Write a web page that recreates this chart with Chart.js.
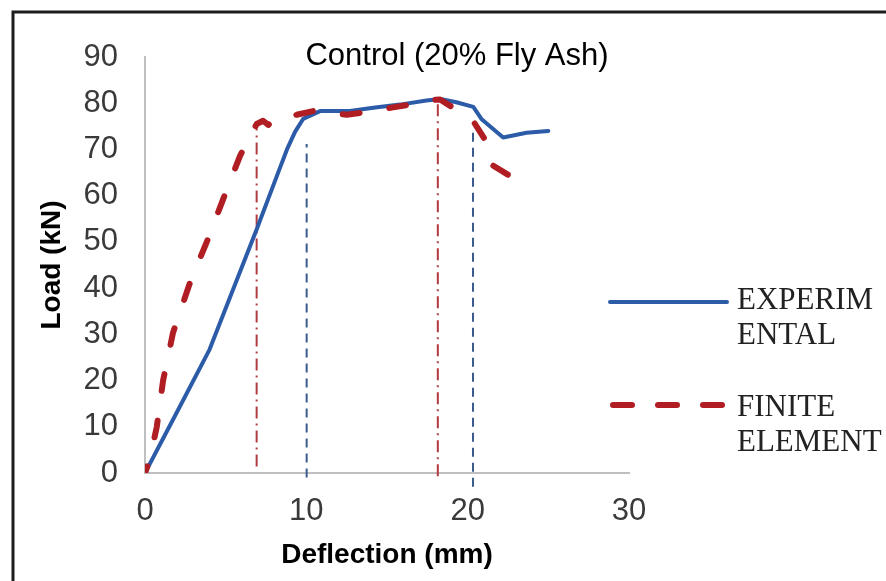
<!DOCTYPE html>
<html>
<head>
<meta charset="utf-8">
<script src="https://cdn.jsdelivr.net/npm/chart.js@4/dist/chart.umd.min.js"></script>
<style>
  html, body { margin: 0; padding: 0; background: #ffffff; }
  #wrap { width: 886px; height: 581px; position: relative; }
  canvas { display: block; }
</style>
</head>
<body>
<div id="wrap"><canvas id="c" width="886" height="581"></canvas></div>
<script>
// ---- Data ----
const chartTitle = "Control (20% Fly Ash)";
const xAxisTitle = "Deflection (mm)";
const yAxisTitle = "Load (kN)";
const xTicks = [0, 10, 20, 30];
const yTicks = [0, 10, 20, 30, 40, 50, 60, 70, 80, 90];

const expLabel = ["EXPERIM", "ENTAL"];
const expX = [0, 2.0, 4.0, 6.9, 8.2, 8.8, 9.3, 9.8, 10.85, 12.7, 14.15, 15.8, 17.45, 18.3, 19.3, 20.35, 20.85, 22.2, 23.65, 25.0];
const expY = [0, 13.3, 26.7, 52.5, 64.5, 70.0, 73.8, 76.6, 78.3, 78.3, 79.0, 79.7, 80.6, 80.9, 80.2, 79.2, 76.6, 72.6, 73.6, 74.0];

const feLabel = ["FINITE", "ELEMENT"];
const feX = [0, 0.3, 0.73, 1.12, 1.74, 2.79, 3.83, 4.84, 5.89, 6.92, 7.32, 7.64, 8.06, 9.4, 10.43, 12.5, 13.74, 15.19, 16.43, 17.87, 18.29, 19.11, 20.35, 21.08, 21.49, 22.52];
const feY = [0, 3.0, 10.0, 20.0, 30.4, 41.2, 50.0, 59.2, 68.6, 75.5, 76.2, 75.3, 76.6, 77.5, 78.3, 77.5, 78.1, 79.0, 79.7, 80.7, 80.8, 79.0, 76.1, 72.1, 66.7, 64.5];

// vertical marker lines: x, bottom y, top y
const feMarkX = [6.92, 18.15];
const feMarkY0 = [1.4, -0.7];
const feMarkY1 = [75.2, 80.0];
const expMarkX = [10.02, 20.33];
const expMarkY0 = [-1.0, -3.0];
const expMarkY1 = [71.2, 74.8];

// ---- Styles ----
const BLUE = "#2c5ba8";
const RED = "#b01e24";
const BLUE_MARK = "#3b5b8c";
const RED_MARK = "#b33a40";

function pts(xs, ys) { return xs.map((x, i) => ({ x: x, y: ys[i] })); }

const datasets = [
  { label: feLabel.join(""), data: pts(feX, feY), borderColor: RED, borderWidth: 6,
    borderDash: [17, 30], borderDashOffset: 10, borderCapStyle: "round", borderJoinStyle: "round",
    showLine: true, pointRadius: 0, tension: 0 },
  { label: expLabel.join(""), data: pts(expX, expY), borderColor: BLUE, borderWidth: 4,
    borderCapStyle: "round", borderJoinStyle: "round",
    showLine: true, pointRadius: 0, tension: 0 }
];
feMarkX.forEach((x, i) => datasets.push({
  label: "fe-mark", data: [{ x: x, y: feMarkY0[i] }, { x: x, y: feMarkY1[i] }],
  borderColor: RED_MARK, borderWidth: 2, borderDash: [12, 5, 2, 5],
  showLine: true, pointRadius: 0, clip: false
}));
expMarkX.forEach((x, i) => datasets.push({
  label: "exp-mark", data: [{ x: x, y: expMarkY0[i] }, { x: x, y: expMarkY1[i] }],
  borderColor: BLUE_MARK, borderWidth: 2, borderDash: [9, 6],
  showLine: true, pointRadius: 0, clip: false
}));

const decor = {
  id: "decor",
  afterDraw(chart) {
    const ctx = chart.ctx;
    ctx.save();
    // frame (top and left)
    ctx.strokeStyle = "#1c1c1c";
    ctx.lineWidth = 3;
    ctx.beginPath();
    ctx.moveTo(886, 12); ctx.lineTo(13, 12); ctx.lineTo(13, 581);
    ctx.stroke();
    // title inside plot
    ctx.fillStyle = "#000000";
    ctx.font = "31px 'Liberation Sans', Arial, sans-serif";
    ctx.textAlign = "center";
    ctx.textBaseline = "middle";
    ctx.fillText(chartTitle, 457, 56);
    // legend
    const lx0 = 610, lx1 = 727;
    ctx.lineCap = "round";
    ctx.strokeStyle = datasets[1].borderColor;
    ctx.lineWidth = 4;
    ctx.setLineDash([]);
    ctx.beginPath(); ctx.moveTo(lx0, 302); ctx.lineTo(lx1, 302); ctx.stroke();
    ctx.strokeStyle = datasets[0].borderColor;
    ctx.lineWidth = 6;
    ctx.setLineDash([19, 26]);
    ctx.beginPath(); ctx.moveTo(lx0 + 3, 405); ctx.lineTo(lx1, 405); ctx.stroke();
    ctx.setLineDash([]);
    ctx.fillStyle = "#222222";
    ctx.font = "31px 'Liberation Serif', 'Times New Roman', serif";
    ctx.textAlign = "left";
    ctx.fillText(expLabel[0], 737, 301);
    ctx.fillText(expLabel[1], 737, 336);
    ctx.fillText(feLabel[0], 737, 408);
    ctx.fillText(feLabel[1], 737, 443);
    ctx.restore();
  }
};

new Chart(document.getElementById("c"), {
  type: "scatter",
  data: { datasets: datasets },
  options: {
    responsive: false,
    animation: false,
    devicePixelRatio: 1,
    layout: { padding: { left: 13, right: 257, top: 57, bottom: 0 } },
    plugins: { legend: { display: false }, title: { display: false }, tooltip: { enabled: false } },
    scales: {
      x: {
        type: "linear", min: 0, max: 30,
        afterBuildTicks: (s) => { s.ticks = xTicks.map(v => ({ value: v })); },
        afterFit: (s) => { s.height = 108; },
        grid: { display: false, drawTicks: false },
        border: { display: true, color: "#bfbfbf", width: 2 },
        ticks: { padding: 20, color: "#3a3a3a", font: { family: "'Liberation Sans', Arial, sans-serif", size: 31 } },
        title: { display: true, text: xAxisTitle, color: "#000000", padding: { top: 0, bottom: 9 },
                 font: { family: "'Liberation Sans', Arial, sans-serif", size: 28, weight: "bold" } }
      },
      y: {
        type: "linear", min: 0, max: 90,
        afterBuildTicks: (s) => { s.ticks = yTicks.map(v => ({ value: v })); },
        afterFit: (s) => { s.width = 132; },
        grid: { display: false, drawTicks: false },
        border: { display: true, color: "#bfbfbf", width: 2 },
        ticks: { padding: 27, color: "#3a3a3a", font: { family: "'Liberation Sans', Arial, sans-serif", size: 31 } },
        title: { display: true, text: yAxisTitle, color: "#000000", padding: { top: 22, bottom: 0 },
                 font: { family: "'Liberation Sans', Arial, sans-serif", size: 28, weight: "bold" } }
      }
    }
  },
  plugins: [decor]
});
</script>
</body>
</html>
